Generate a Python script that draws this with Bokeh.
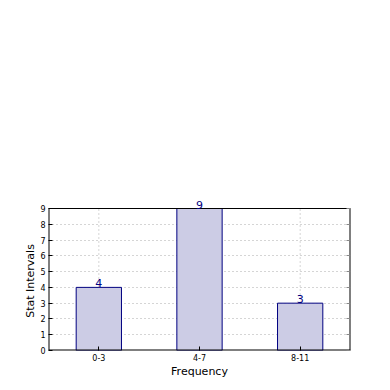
from bokeh.plotting import figure
from bokeh.models import (Range1d, FactorRange, FixedTicker, Label, ColumnDataSource,
                          LinearAxis)
from bokeh.embed import file_html
from bokeh.resources import INLINE

categories = ["0-3", "4-7", "8-11"]
counts = [4, 9, 3]
y_ticks = [0, 1, 2, 3, 4, 5, 6, 7, 8, 9]

ymax = max(y_ticks)
ncat = len(categories)
box_h = 142          # pixel height of the axes box
extra = 18           # room above the box for value labels
frame_h = box_h + extra

src = ColumnDataSource(data=dict(cat=categories, val=counts))

p = figure(x_range=FactorRange(factors=categories, range_padding=0),
           y_range=Range1d(0, ymax * frame_h / box_h),
           frame_width=302, frame_height=frame_h, min_border_left=48,
           min_border_top=208 - extra, min_border_bottom=30, min_border_right=30,
           output_backend="svg", toolbar_location=None)
p.background_fill_color = "white"
p.border_fill_color = "white"
p.outline_line_color = None

# horizontal dotted grid
p.xgrid.visible = False
p.ygrid.ticker = FixedTicker(ticks=y_ticks)
p.ygrid.grid_line_color = "#aaaaaa"
p.ygrid.grid_line_dash = "1 3"
p.ygrid.grid_line_width = 1

# vertical dotted grid limited to the axes box
p.segment(x0=categories, y0=[0] * ncat, x1=categories, y1=[ymax] * ncat,
          line_color="#aaaaaa", line_dash="1 3", line_width=1)

p.vbar(x="cat", top="val", width=0.45, source=src, fill_color="#ccccE5",
       line_color="#000080", line_width=1)

# axes box: sides and bottom sit on the frame edge (half clipped), top inside
p.segment(x0=[0, ncat, 0], y0=[0, 0, 0], x1=[0, ncat, ncat], y1=[ymax, ymax, 0],
          line_color="black", line_width=2)
p.segment(x0=[0], y0=[ymax], x1=[ncat], y1=[ymax], line_color="black", line_width=1)

for i, v in enumerate(counts):
    p.add_layout(Label(x=i + 0.5, y=v, text=str(v), text_align="center",
                       text_baseline="middle", text_color="#000080", y_offset=4,
                       text_font_size="11px", text_font="DejaVu Sans", level="overlay"))

p.yaxis.ticker = FixedTicker(ticks=y_ticks)
p.yaxis.bounds = (0, ymax)
for ax in (p.xaxis[0], p.yaxis[0]):
    ax.major_tick_in = 4
    ax.major_tick_out = 0
    ax.minor_tick_line_color = None
    ax.axis_line_color = None
    ax.major_label_text_font = "DejaVu Sans"
    ax.major_label_text_font_size = "8px"
    ax.major_label_text_color = "black"
    ax.axis_label_text_font = "DejaVu Sans"
    ax.axis_label_text_font_size = "11px"
    ax.axis_label_text_font_style = "normal"
    ax.axis_label_text_color = "black"
    ax.major_label_standoff = 3
    ax.axis_label_standoff = 4

p.xaxis.axis_label = "Frequency"
p.xaxis.axis_label_standoff = 1
# trailing no-break spaces centre the visible label on the axes box, not the taller frame
p.yaxis.axis_label = "Stat Intervals" + "\u00a0" * 6
p.yaxis.axis_label_standoff = 0

ra = LinearAxis(ticker=FixedTicker(ticks=y_ticks), major_label_overrides={t: "" for t in y_ticks},
                major_tick_in=4, major_tick_out=0, minor_tick_line_color=None,
                axis_line_color=None, major_tick_line_color="#888888", bounds=(0, ymax))
p.add_layout(ra, "right")

open("out.html", "w").write(file_html(p, INLINE))
